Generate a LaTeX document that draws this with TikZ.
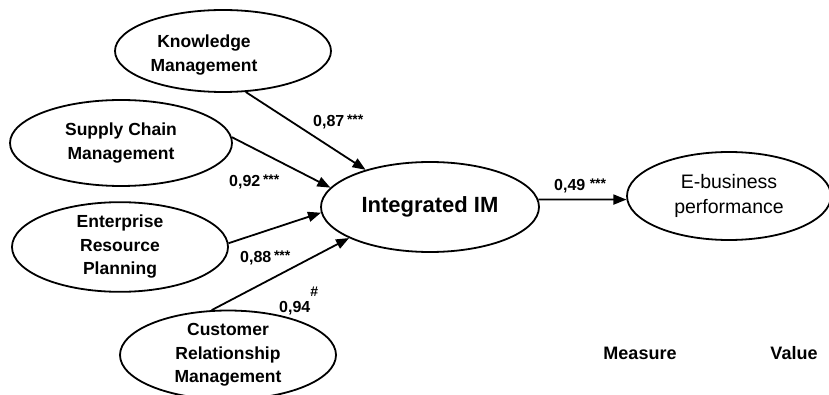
\documentclass[tikz,border=0pt]{standalone}
\usepackage{fontspec}
\setmainfont{Liberation Sans}
\usetikzlibrary{shapes.geometric,arrows.meta}
\newcommand{\sigstars}[1]{\raisebox{2pt}{\fontsize{14}{14}\selectfont #1}}
\begin{document}
\begin{tikzpicture}[x=1pt,y=-1pt,
  construct/.style={draw=black,line width=1.8pt,ellipse,inner sep=0pt,
    align=center,font=\bfseries\fontsize{17.5}{23.5}\selectfont},
  caption/.style={align=center,inner sep=0pt,font=\bfseries\fontsize{17.5}{24.5}\selectfont},
  path/.style={line width=1.8pt,-{Triangle[length=13pt,width=10pt]}},
  coef/.style={anchor=base west,inner sep=0pt,font=\bfseries\fontsize{16}{18}\selectfont},
  heading/.style={inner sep=0pt,font=\bfseries\fontsize{18}{20}\selectfont}]
\useasboundingbox (0,0) rectangle (829,395);

% latent constructs
\node[construct,minimum width=216pt,minimum height=82pt,
      label={[caption,xshift=-19pt,yshift=-4pt]center:Knowledge\\Management}] (km) at (223,51) {};
\node[construct,minimum width=222pt,minimum height=86pt] (scm) at (121,143) {Supply Chain\\Management};
\node[construct,minimum width=216pt,minimum height=88pt] (erp) at (120,247) {Enterprise\\Resource\\Planning};
\node[construct,minimum width=216pt,minimum height=88pt] (crm) at (228,355) {Customer\\Relationship\\Management};
\node[construct,minimum width=218pt,minimum height=90pt,
      font=\bfseries\fontsize{22}{26}\selectfont] (iim) at (430,207) {Integrated IM};
\node[construct,minimum width=204pt,minimum height=88pt,
      font=\fontsize{19.5}{25}\selectfont] (eb) at (729,196) {E-business\\performance};

% structural paths
\draw[path] (km.-61)  -- (iim.150);
\draw[path] (scm.3)   -- (iim.169);
\draw[path] (erp.2)   -- (iim.183);
\draw[path] (crm.110) -- (iim.201);
\draw[path] (iim.4)   -- (eb.182);

% path coefficients
\node[coef] (c1) at (313,127) {0,87\,\sigstars{***}};
\node[coef] (c2) at (229,187) {0,92\,\sigstars{***}};
\node[coef] (c3) at (240,262) {0,88\,\sigstars{***}};
\node[coef] (c4) at (279,312) {0,94\raisebox{16pt}{\fontsize{14}{14}\selectfont\#}};
\node[coef] (c5) at (554,191) {0,49\;\sigstars{***}};

% table headings
\node[heading] (meas) at (640,353) {Measure};
\node[heading] (val)  at (794,353) {Value};
\end{tikzpicture}
\end{document}
